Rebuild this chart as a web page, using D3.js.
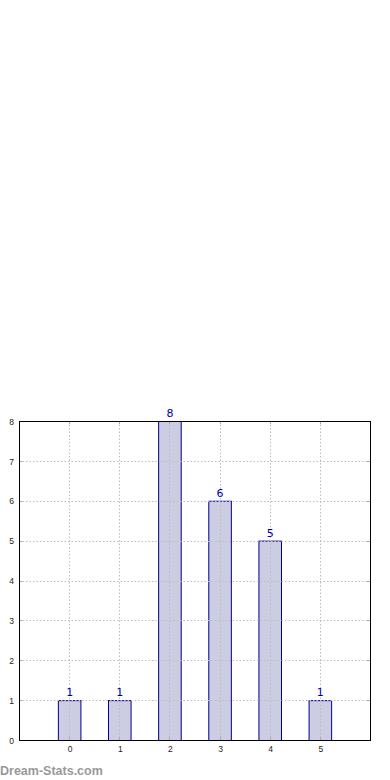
<!DOCTYPE html>
<html>
<head>
<meta charset="utf-8">
<script src="https://cdn.jsdelivr.net/npm/d3@7"></script>
<style>
  body { margin: 0; background: #fff; }
  svg { display: block; font-family: "DejaVu Sans", sans-serif; }
</style>
</head>
<body>
<div class="canvas"></div>
<script>
const categories = [0, 1, 2, 3, 4, 5]
const counts = [1, 1, 8, 6, 5, 1]
const yTicks = [0, 1, 2, 3, 4, 5, 6, 7, 8]

const dims = { width: 390, height: 780 }
const plot = { left: 19, right: 370, top: 421, bottom: 740 }

const svg = d3.select('.canvas')
    .append('svg')
    .attr('width', dims.width)
    .attr('height', dims.height)

const x = d3.scaleLinear()
    .domain([-1, 6])
    .range([plot.left, plot.right])

const y = d3.scaleLinear()
    .domain([0, 8])
    .range([plot.bottom, plot.top])

const barWidth = 0.45

// bars
svg.append('g')
    .selectAll('rect')
    .data(categories)
    .enter()
    .append('rect')
    .attr('x', (d) => x(d - barWidth / 2) + 0.5)
    .attr('y', (d, i) => y(counts[i]) + 0.5)
    .attr('width', x(barWidth) - x(0))
    .attr('height', (d, i) => y(0) - y(counts[i]))
    .attr('fill', '#ccccE3')
    .attr('stroke', '#00008b')
    .attr('stroke-width', 1)

// grid (drawn on top like the original)
const grid = svg.append('g')
    .attr('stroke', '#bdbdbd')
    .attr('stroke-width', 1)
    .attr('stroke-dasharray', '1.5,2')

grid.selectAll('.gx')
    .data(categories)
    .enter()
    .append('line')
    .attr('x1', d => Math.round(x(d)) + 0.5)
    .attr('x2', d => Math.round(x(d)) + 0.5)
    .attr('y1', plot.top)
    .attr('y2', plot.bottom)

grid.selectAll('.gy')
    .data(yTicks)
    .enter()
    .append('line')
    .attr('x1', plot.left)
    .attr('x2', plot.right)
    .attr('y1', d => Math.round(y(d)) + 0.5)
    .attr('y2', d => Math.round(y(d)) + 0.5)

// small inner ticks on all four sides
const ticks = svg.append('g')
    .attr('stroke', '#aaa')
    .attr('stroke-width', 1)

categories.forEach(d => {
    const px = Math.round(x(d)) + 0.5
    ticks.append('line').attr('x1', px).attr('x2', px).attr('y1', plot.bottom).attr('y2', plot.bottom - 3)
    ticks.append('line').attr('x1', px).attr('x2', px).attr('y1', plot.top).attr('y2', plot.top + 3)
})
yTicks.forEach(d => {
    const py = Math.round(y(d)) + 0.5
    ticks.append('line').attr('x1', plot.left).attr('x2', plot.left + 3).attr('y1', py).attr('y2', py)
    ticks.append('line').attr('x1', plot.right).attr('x2', plot.right - 3).attr('y1', py).attr('y2', py)
})

// frame
svg.append('rect')
    .attr('x', plot.left + 0.5)
    .attr('y', plot.top + 0.5)
    .attr('width', plot.right - plot.left)
    .attr('height', plot.bottom - plot.top)
    .attr('fill', 'none')
    .attr('stroke', '#000')
    .attr('stroke-width', 1)

// axes labels
const xAxis = d3.axisBottom(x)
    .tickValues(categories)
    .tickSize(0)
    .tickPadding(6)
    .tickFormat(d3.format('d'))

svg.append('g')
    .attr('transform', `translate(0.5, ${plot.bottom})`)
    .call(xAxis)
    .call(g => g.select('.domain').remove())
    .selectAll('text')
    .attr('font-size', 8.5)
    .attr('fill', '#222')

const yAxis = d3.axisLeft(y)
    .tickValues(yTicks)
    .tickSize(0)
    .tickPadding(5)
    .tickFormat(d3.format('d'))

svg.append('g')
    .attr('transform', `translate(${plot.left}, 0.5)`)
    .call(yAxis)
    .call(g => g.select('.domain').remove())
    .selectAll('text')
    .attr('font-size', 8.5)
    .attr('fill', '#222')

// value labels
svg.append('g')
    .selectAll('text')
    .data(categories)
    .enter()
    .append('text')
    .attr('x', d => x(d) + 0.5)
    .attr('y', (d, i) => y(counts[i]) - 4)
    .attr('text-anchor', 'middle')
    .attr('font-size', 11)
    .attr('fill', '#0000aa')
    .text((d, i) => counts[i])

// watermark
svg.append('text')
    .attr('x', 0)
    .attr('y', 775)
    .attr('font-family', '"Liberation Sans", Arial, sans-serif')
    .attr('font-size', 12.5)
    .attr('font-weight', 'bold')
    .attr('fill', '#999')
    .text('Dream-Stats.com')
</script>
</body>
</html>
